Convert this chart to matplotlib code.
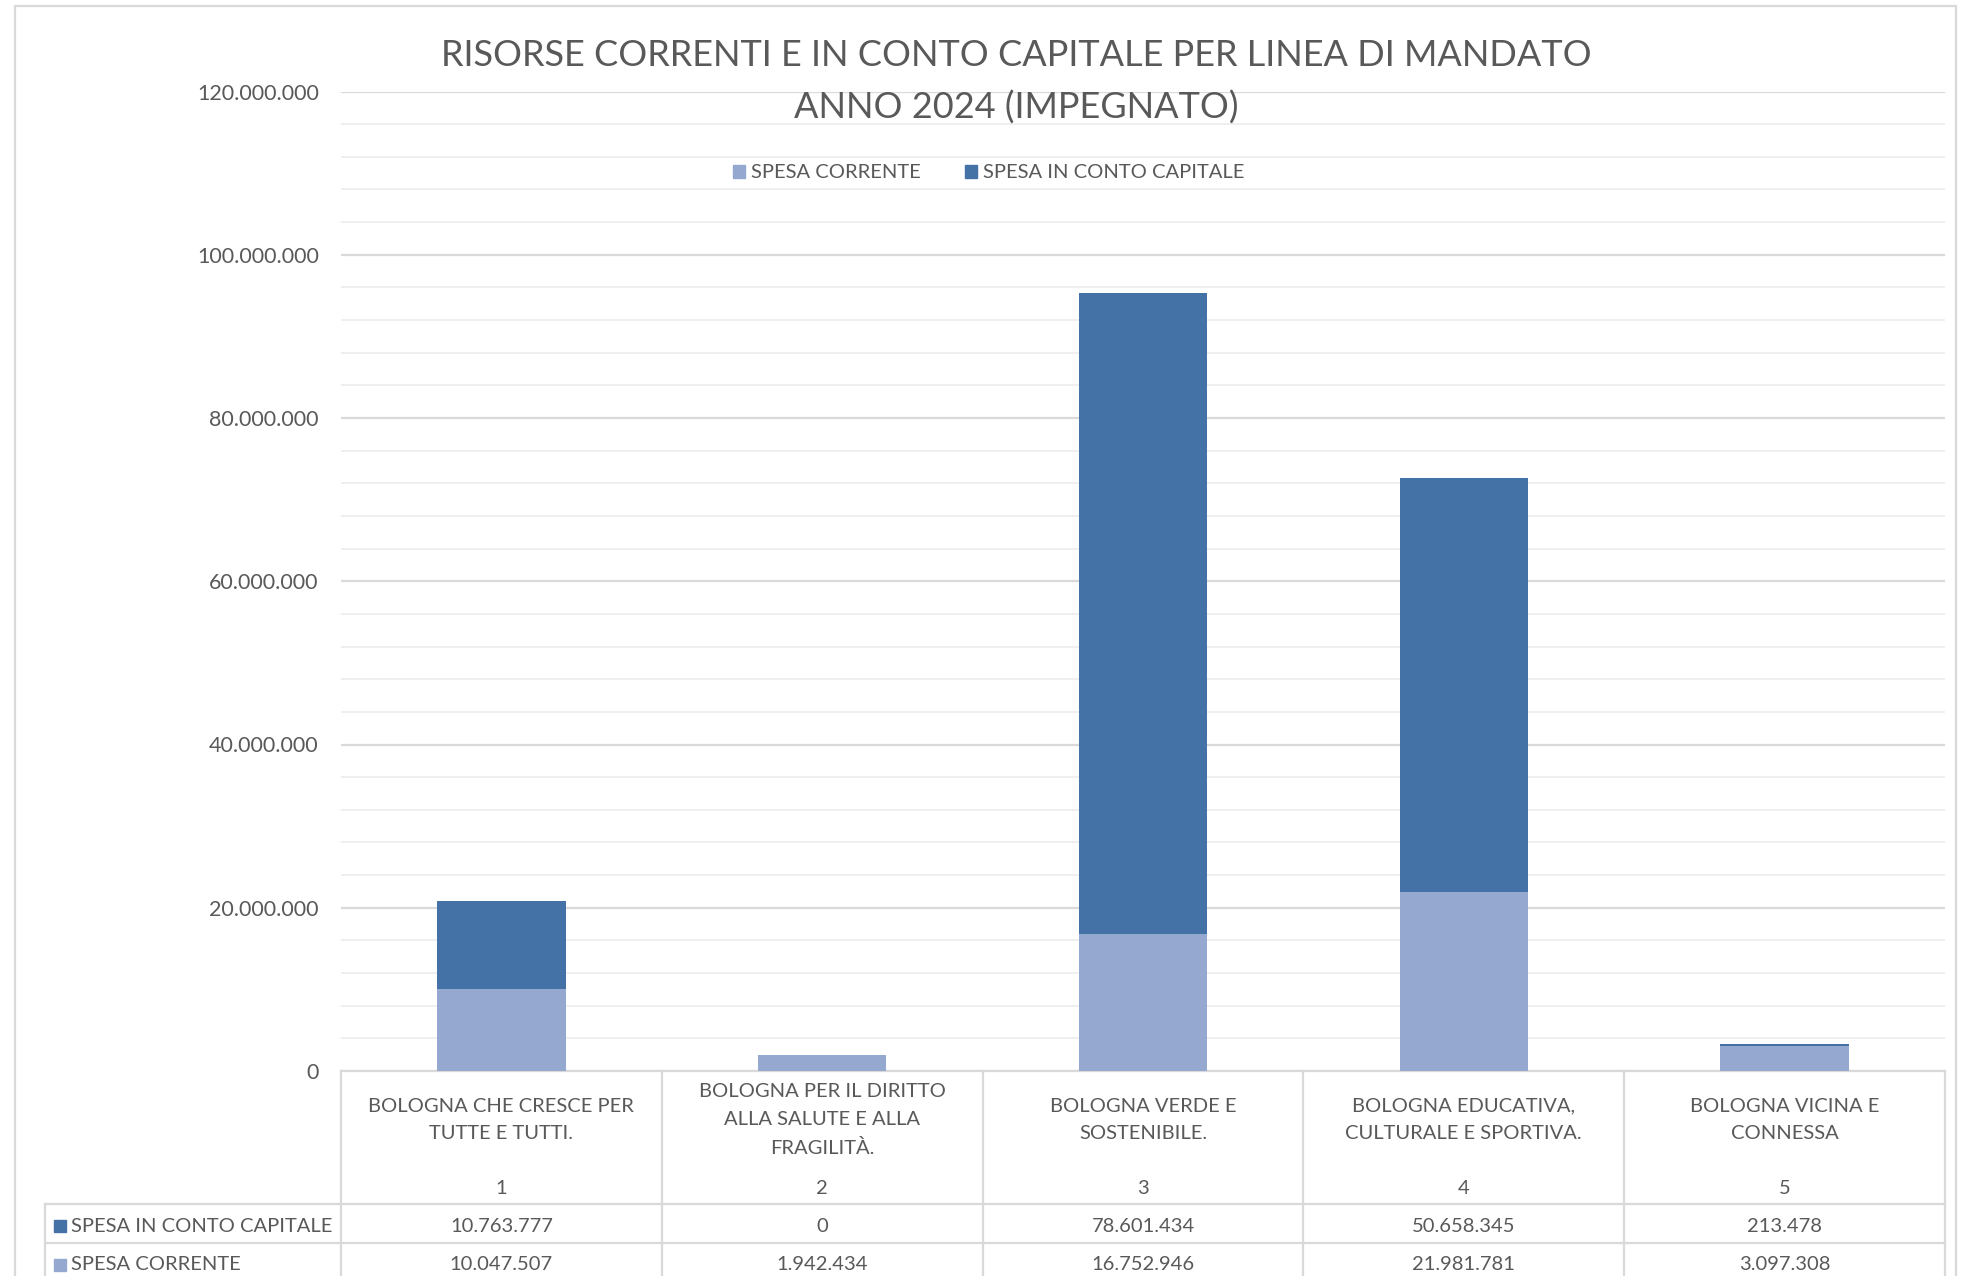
import matplotlib
matplotlib.use("Agg")
import matplotlib.pyplot as plt
import matplotlib.patches as mpatches
from matplotlib.lines import Line2D
from matplotlib.ticker import FuncFormatter, MultipleLocator

plt.rcParams["font.family"] = ["Lato", "DejaVu Sans"]

# Dati
categorie = [
    "BOLOGNA CHE CRESCE PER\nTUTTE E TUTTI.",
    "BOLOGNA PER IL DIRITTO\nALLA SALUTE E ALLA\nFRAGILITÀ.",
    "BOLOGNA VERDE E\nSOSTENIBILE.",
    "BOLOGNA EDUCATIVA,\nCULTURALE E SPORTIVA.",
    "BOLOGNA VICINA E\nCONNESSA",
]
numeri = ["1", "2", "3", "4", "5"]
spesa_corrente = [10047507, 1942434, 16752946, 21981781, 3097308]
spesa_capitale = [10763777, 0, 78601434, 50658345, 213478]

COR_CORRENTE = "#95A9D0"
COR_CAPITALE = "#4472A6"
COR_TESTO = "#595959"
COR_GRIGLIA = "#d9d9d9"
COR_MINORE = "#efefef"

W, H = 1966, 1276
FS = 14.5


def fmt(v):
    return f"{int(v):,}".replace(",", ".")


fig = plt.figure(figsize=(W / 100, H / 100), dpi=100, facecolor="white")
ax = fig.add_axes([341 / W, 1 - 1071 / H, (1945 - 341) / W, (1071 - 91.5) / H])

x = list(range(len(categorie)))
ax.bar(x, spesa_corrente, width=0.4, color=COR_CORRENTE, edgecolor="none", zorder=3)
ax.bar(x, spesa_capitale, width=0.4, bottom=spesa_corrente, color=COR_CAPITALE,
       edgecolor="none", zorder=3)

ax.set_xlim(-0.5, len(categorie) - 0.5)
ax.set_ylim(0, 120_000_000)
ax.yaxis.set_major_locator(MultipleLocator(20_000_000))
ax.yaxis.set_minor_locator(MultipleLocator(4_000_000))
ax.yaxis.set_major_formatter(FuncFormatter(lambda v, p: fmt(v)))
ax.grid(axis="y", which="major", color=COR_GRIGLIA, lw=1.6, zorder=0)
ax.grid(axis="y", which="minor", color=COR_MINORE, lw=1.4, zorder=0)
ax.tick_params(axis="y", which="both", length=0, pad=16, labelsize=15.5, labelcolor=COR_TESTO)
ax.tick_params(axis="x", which="both", length=0, labelbottom=False)
for s in ["top", "right", "left"]:
    ax.spines[s].set_visible(False)
ax.spines["bottom"].set_color(COR_GRIGLIA)
ax.spines["bottom"].set_linewidth(1.6)

# Tabella sotto il grafico (x in dati, y in frazione degli assi)
tr = ax.get_xaxis_transform()
ax_h = 1071 - 91.5


def ya(px):
    return (1071 - px) / ax_h


y_fondo = ya(1290)
y_r1 = ya(1204)
y_r2 = ya(1243)
x_sx = (45 - 341) / (1945 - 341) * len(categorie) - 0.5

linea = dict(color=COR_GRIGLIA, lw=1.6, clip_on=False, zorder=1)
for b in [i - 0.5 for i in range(len(categorie) + 1)]:
    ax.plot([b, b], [0, y_fondo], transform=tr, **linea)
for yy in [y_r1, y_r2]:
    ax.plot([x_sx, len(categorie) - 0.5], [yy, yy], transform=tr, **linea)
ax.plot([x_sx, x_sx], [y_r1, y_fondo], transform=tr, **linea)

for i, (cat, n) in enumerate(zip(categorie, numeri)):
    ax.text(i, ya(1120), cat, transform=tr, ha="center", va="center",
            fontsize=FS, color=COR_TESTO, linespacing=1.75)
    ax.text(i, ya(1188), n, transform=tr, ha="center", va="center",
            fontsize=FS, color=COR_TESTO)
    ax.text(i, ya(1226), fmt(spesa_capitale[i]), transform=tr, ha="center",
            va="center", fontsize=FS, color=COR_TESTO)
    ax.text(i, ya(1265), fmt(spesa_corrente[i]), transform=tr, ha="center",
            va="center", fontsize=FS, color=COR_TESTO)

# Chiavi della legenda nella colonna di sinistra
for yy, col, lab in [(1226, COR_CAPITALE, "SPESA IN CONTO CAPITALE"),
                     (1265, COR_CORRENTE, "SPESA CORRENTE")]:
    fig.patches.append(mpatches.Rectangle((54 / W, 1 - (yy + 6) / H), 12 / W, 12 / H,
                                          transform=fig.transFigure, color=col))
    fig.text(71 / W, 1 - yy / H, lab, ha="left", va="center", fontsize=FS, color=COR_TESTO)

# Bordo esterno del grafico
fig.add_artist(Line2D([15 / W, 15 / W, 1956 / W, 1956 / W], [0, 1 - 6 / H, 1 - 6 / H, 0],
                      color=COR_GRIGLIA, lw=1.6, transform=fig.transFigure))

# Titolo
fig.text(1016 / W, 1 - 55 / H, "RISORSE CORRENTI E IN CONTO CAPITALE PER LINEA DI MANDATO",
         ha="center", va="center", fontsize=26, color=COR_TESTO)
fig.text(1016 / W, 1 - 108 / H, "ANNO 2024 (IMPEGNATO)",
         ha="center", va="center", fontsize=26, color=COR_TESTO)

# Legenda
legenda = [
    mpatches.Patch(color=COR_CORRENTE, label="SPESA CORRENTE"),
    mpatches.Patch(color=COR_CAPITALE, label="SPESA IN CONTO CAPITALE"),
]
fig.legend(handles=legenda, loc="center", bbox_to_anchor=(989 / W, 1 - 173 / H), ncol=2,
           frameon=False, fontsize=FS, labelcolor=COR_TESTO, handlelength=0.6,
           handleheight=0.6, handletextpad=0.3, columnspacing=2.2)

fig.savefig("out.png", dpi=100, facecolor="white")
